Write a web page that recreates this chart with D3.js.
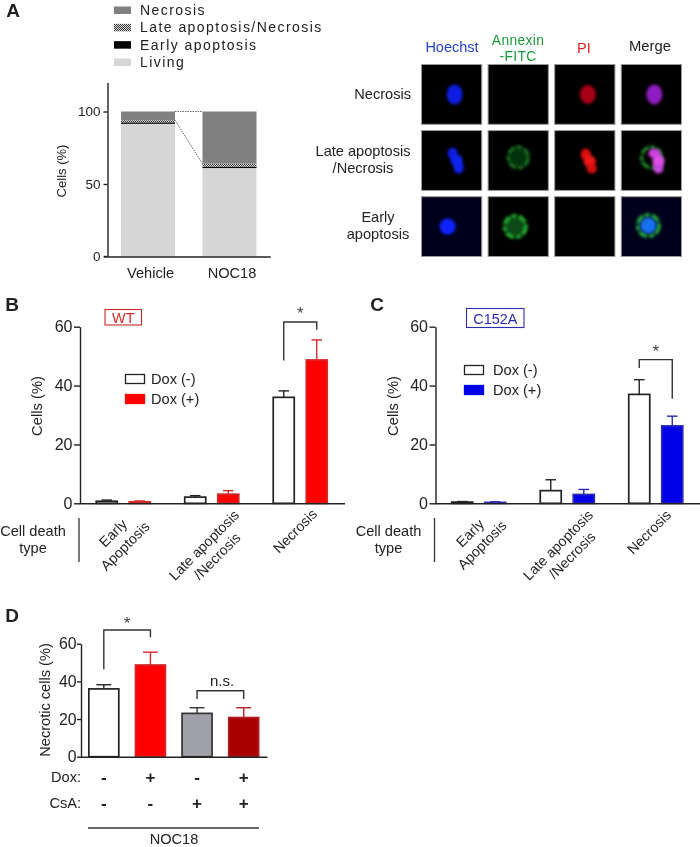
<!DOCTYPE html>
<html>
<head>
<meta charset="utf-8">
<script src="https://cdn.jsdelivr.net/npm/d3@7"></script>
<style>
  html, body { margin: 0; padding: 0; background: #fff; }
  svg { display: block; filter: blur(0.35px); }
  text { font-family: "Liberation Sans", Arial, sans-serif; fill: #222; }
</style>
</head>
<body>
<svg id="fig" width="700" height="847"></svg>
<script>
// panel A
const stackGroups = ["Vehicle", "NOC18"];
const stackKeys = ["Living", "Early apoptosis", "Late apoptosis/Necrosis", "Necrosis"];
const livingPct = [91.5, 61];
const earlyPct = [1, 1];
const latePct = [1.5, 2];
const necrosisPct = [6, 36];

// panels B and C
const deathTypes = ["Early", "Late", "Necrosis"];
const doxGroups = ["Dox (-)", "Dox (+)"];
const wtMinus = [0.7, 2.1, 36];
const wtMinusErr = [0.4, 0.5, 2.2];
const wtPlus = [0.5, 3.1, 48.7];
const wtPlusErr = [0.3, 1.2, 6.8];
const c152aMinus = [0.4, 4.3, 37];
const c152aMinusErr = [0.2, 3.7, 5];
const c152aPlus = [0.3, 3, 26.3];
const c152aPlusErr = [0.2, 1.7, 3.3];

// panel D
const noc18Groups = ["a", "b", "c", "d"];
const noc18Values = [36, 48.7, 23, 20.8];
const noc18Err = [2.2, 6.8, 3, 5.2];
const doxSigns = ["-", "+", "-", "+"];
const csaSigns = ["-", "-", "+", "+"];

// micrographs
const channels = ["Hoechst", "Annexin", "PI", "Merge"];
const stages = ["Necrosis", "Late", "Early"];

const ink = "#222";
const svg = d3.select("#fig");
const defs = svg.append("defs");

const hatch = defs.append("pattern")
    .attr("id", "hatch")
    .attr("width", 2)
    .attr("height", 2)
    .attr("patternUnits", "userSpaceOnUse");
hatch.append("rect").attr("width", 2).attr("height", 2).attr("fill", "#ddd");
hatch.append("rect").attr("width", 1).attr("height", 1).attr("fill", "#333");
hatch.append("rect").attr("x", 1).attr("y", 1).attr("width", 1).attr("height", 1).attr("fill", "#333");

defs.append("filter").attr("id", "soft")
    .attr("x", "-50%").attr("y", "-50%").attr("width", "200%").attr("height", "200%")
    .append("feGaussianBlur").attr("stdDeviation", 1.4);

function label(x, y, str, size, opts = {}) {
    const t = svg.append("text")
        .attr("x", x)
        .attr("y", y)
        .attr("dy", "0.35em")
        .attr("font-size", size)
        .attr("text-anchor", opts.anchor || "middle")
        .text(str);
    if (opts.fill) t.style("fill", opts.fill);
    if (opts.weight) t.attr("font-weight", opts.weight);
    if (opts.spacing) t.attr("letter-spacing", opts.spacing);
    if (opts.rotate) t.attr("transform", `rotate(${opts.rotate},${x},${y})`);
    return t;
}

function styleAxis(g, size) {
    g.selectAll("path, line").attr("stroke", ink).attr("stroke-width", 1.4);
    g.selectAll("text").attr("font-size", size).style("fill", ink);
}

function yAxis(y, x, ticks, size, tickLen = 5, pad = 3) {
    const g = svg.append("g")
        .attr("transform", `translate(${x},0)`)
        .call(d3.axisLeft(y).tickValues(ticks).tickSize(tickLen).tickSizeOuter(0).tickPadding(pad));
    styleAxis(g, size);
}

function xAxis(x, y0, size, showLabels) {
    const axis = d3.axisBottom(x).tickSize(0).tickPadding(11);
    if (!showLabels) axis.tickFormat("");
    const g = svg.append("g")
        .attr("transform", `translate(0,${y0})`)
        .call(axis);
    styleAxis(g, size);
    return g;
}

function bracket(x1, x2, yLeft, yTop, yRight) {
    svg.append("path")
        .attr("d", d3.line()([[x1, yLeft], [x1, yTop], [x2, yTop], [x2, yRight]]))
        .attr("fill", "none")
        .attr("stroke", "#333")
        .attr("stroke-width", 1.4);
}

function bar(x, w, y, value, err, fill, stroke) {
    // error bar first, only the upper half shows
    const cx = x + w / 2;
    svg.append("path")
        .attr("d", d3.line()([[cx, y(value)], [cx, y(value + err)]]))
        .attr("stroke", stroke)
        .attr("stroke-width", 1.4);
    svg.append("path")
        .attr("d", d3.line()([[cx - w * 0.24, y(value + err)], [cx + w * 0.24, y(value + err)]]))
        .attr("stroke", stroke)
        .attr("stroke-width", 1.4);
    svg.append("rect")
        .attr("x", x + 0.5)
        .attr("y", y(value))
        .attr("width", w - 1)
        .attr("height", y(0) - y(value))
        .attr("fill", fill)
        .attr("stroke", stroke)
        .attr("stroke-width", 1.7);
}

// ---- panel A ----
label(13, 10, "A", 19, { weight: "bold" });

const stackRows = stackGroups.map((g, i) => ({
    group: g,
    "Living": livingPct[i],
    "Early apoptosis": earlyPct[i],
    "Late apoptosis/Necrosis": latePct[i],
    "Necrosis": necrosisPct[i],
}));
const stackFill = d3.scaleOrdinal()
    .domain(stackKeys)
    .range(["#d6d6d6", "#000", "url(#hatch)", "#808080"]);

const xA = d3.scaleBand().domain(stackGroups).range([107.25, 270.25]).paddingInner(0.337).paddingOuter(0.169);
const yA = d3.scaleLinear().domain([0, 120]).range([256.5, 82.5]);
const series = d3.stack().keys(stackKeys)(stackRows);

svg.append("g")
    .selectAll("g")
    .data(series)
    .join("g")
    .attr("fill", (d) => stackFill(d.key))
    .selectAll("rect")
    .data((d) => d)
    .join("rect")
    .attr("x", (d) => xA(d.data.group))
    .attr("y", (d) => yA(d[1]))
    .attr("width", xA.bandwidth())
    .attr("height", (d) => yA(d[0]) - yA(d[1]));

// dotted connectors between the two stacks
const lateTop = series[2];
[[series[3][0][1], series[3][1][1]], [lateTop[0][1], lateTop[1][1]]].forEach((v) => {
    svg.append("path")
        .attr("d", d3.line()([
            [xA("Vehicle") + xA.bandwidth(), yA(v[0])],
            [xA("NOC18"), yA(v[1])],
        ]))
        .attr("stroke", "#666")
        .attr("stroke-width", 1)
        .attr("stroke-dasharray", "1.5,1");
});

yAxis(yA, 107.5, [0, 50, 100], 13.5, 4, 3);
xAxis(xA, 256.5, 14.6, true).selectAll("text").attr("dx", 2.5);
svg.append("path").attr("d", "M104,256.5H107.5").attr("stroke", ink).attr("stroke-width", 1.4);
label(61, 171, "Cells (%)", 13, { rotate: -90 });

// legend, top entry is the top of the stack
const legendKeys = stackKeys.slice().reverse();
const legendY = d3.scalePoint().domain(legendKeys).range([10, 62]);
legendKeys.forEach((k) => {
    svg.append("rect")
        .attr("x", 114)
        .attr("y", legendY(k) - 3.5)
        .attr("width", 17)
        .attr("height", 7.5)
        .attr("fill", stackFill(k));
    label(140, legendY(k), k, 14, { anchor: "start", spacing: 1.45 });
});

// ---- micrographs ----
const colX = d3.scaleBand().domain(channels).range([421, 682]).paddingInner(0.08).paddingOuter(0);
const rowY = d3.scaleBand().domain(stages).range([64, 257]).paddingInner(0.08).paddingOuter(0);

const spots = {
    "Necrosis|Hoechst": [["e", 3, 0, 8, 10, "#0a1ae0"]],
    "Necrosis|PI": [["e", 3, 0, 8, 9.5, "#a80012"]],
    "Necrosis|Merge": [["e", 3, 0, 8, 10, "#8f1fc0"]],
    "Late|Hoechst": [["e", 1, -7, 5, 6, "#0a1ae0"], ["e", 5, 0, 6, 6, "#1020f0"], ["e", 7, 7, 5, 6, "#1020f0"]],
    "Late|Annexin": [["e", 0, -3, 8, 9, "#06300a"], ["r", 0, -3, 11.5, 12, "#1a7a22", 3.5]],
    "Late|PI": [["e", 1, -6, 5, 6, "#e01010"], ["e", 5, 1, 6, 6, "#f01515"], ["e", 7, 8, 5, 5, "#d81010"]],
    "Late|Merge": [["r", 0, -3, 11.5, 12, "#1f8a28", 3.5], ["e", 3, -7, 6, 5, "#d040e0"], ["e", 7, 1, 6, 7, "#e050ea"], ["e", 7, 8, 5, 5, "#c848e0"]],
    "Early|Hoechst": [["e", -4, 0, 8, 8, "#0a20ff"]],
    "Early|Annexin": [["e", -3, 0, 9, 9, "#0a4a12"], ["r", -3, 0, 12.5, 12.5, "#22b030", 4]],
    "Early|Merge": [["r", -3, -1, 12.5, 12.5, "#22a838", 4], ["e", -3, -1, 8, 8, "#1570f0"]],
};

stages.forEach((s) => {
    channels.forEach((c) => {
        const early = s === "Early" && (c === "Hoechst" || c === "Merge");
        svg.append("rect")
            .attr("x", colX(c) + 0.5)
            .attr("y", rowY(s) + 0.5)
            .attr("width", colX.bandwidth() - 1)
            .attr("height", rowY.bandwidth() - 1)
            .attr("fill", early ? "#00001c" : "#000")
            .attr("stroke", "#999")
            .attr("stroke-width", 1);
        const cx = colX(c) + colX.bandwidth() / 2;
        const cy = rowY(s) + rowY.bandwidth() / 2;
        (spots[s + "|" + c] || []).forEach((b) => {
            if (b[0] === "e") {
                svg.append("ellipse")
                    .attr("cx", cx + b[1])
                    .attr("cy", cy + b[2])
                    .attr("rx", b[3])
                    .attr("ry", b[4])
                    .attr("fill", b[5])
                    .attr("filter", "url(#soft)");
            } else {
                // annexin stains the membrane, so it is a ring
                svg.append("ellipse")
                    .attr("cx", cx + b[1])
                    .attr("cy", cy + b[2])
                    .attr("rx", b[3] - b[6] / 2)
                    .attr("ry", b[4] - b[6] / 2)
                    .attr("fill", "none")
                    .attr("stroke", b[5])
                    .attr("stroke-width", b[6])
                    .attr("stroke-dasharray", "9,1.5,5,2")
                    .attr("filter", "url(#soft)");
            }
        });
    });
});

label(452, 47, "Hoechst", 14.5, { fill: "#2244cc" });
label(518, 40.5, "Annexin", 13.8, { fill: "#1a9a3a", spacing: 0.35 });
label(518, 56.5, "-FITC", 13.8, { fill: "#1a9a3a", spacing: 0.35 });
label(584, 48, "PI", 14.6, { fill: "#e02020" });
label(650, 46, "Merge", 14.8);
label(411, 94, "Necrosis", 14.6, { anchor: "end" });
label(363, 151, "Late apoptosis", 14.6);
label(363, 168, "/Necrosis", 14.6);
label(378, 217, "Early", 14.6);
label(378, 234, "apoptosis", 14.6);

// ---- panels B and C ----
function deathPanel(o) {
    const x = d3.scaleBand().domain(deathTypes).range(o.range);
    const inner = d3.scaleBand().domain(doxGroups).range([0, x.bandwidth()])
        .paddingInner(1 / 3).paddingOuter(0.507);
    const y = d3.scaleLinear().domain([0, 60]).range([503.3, 326.7]);

    deathTypes.forEach((t, i) => {
        bar(x(t) + inner(doxGroups[0]), inner.bandwidth(), y, o.minus[i], o.minusErr[i], "#fff", ink);
        bar(x(t) + inner(doxGroups[1]), inner.bandwidth(), y, o.plus[i], o.plusErr[i], o.color, o.errColor);
    });

    yAxis(y, o.range[0] + 1, [0, 20, 40, 60], 16, 6, 1.5);
    xAxis(x, 503.3, 14, false);
    label(o.range[0] - 42, 406, "Cells (%)", 14.8, { rotate: -90 });

    // tag
    svg.append("rect")
        .attr("x", o.tag[0])
        .attr("y", o.tag[1])
        .attr("width", o.tag[2])
        .attr("height", o.tag[3])
        .attr("fill", "none")
        .attr("stroke", o.errColor)
        .attr("stroke-width", 1.1);
    label(o.tag[0] + o.tag[2] / 2, o.tag[1] + o.tag[3] / 2 + 0.5, o.name, 14.4, { fill: o.errColor });

    // legend
    const ly = d3.scalePoint().domain(doxGroups).range(o.legendY);
    doxGroups.forEach((g, i) => {
        svg.append("rect")
            .attr("x", o.legendX + 0.5)
            .attr("y", ly(g) - 4.5)
            .attr("width", 19)
            .attr("height", 9)
            .attr("fill", i ? o.color : "#fff")
            .attr("stroke", i ? o.color : ink)
            .attr("stroke-width", 1.3);
        label(o.legendX + o.legendGap, ly(g), g, 14.6, { anchor: "start" });
    });

    // significance bracket
    const lx = x("Necrosis") + inner(doxGroups[0]) + inner.bandwidth() / 2;
    const rx = x("Necrosis") + inner(doxGroups[1]) + inner.bandwidth() / 2;
    bracket(lx, rx, y(o.sig[0]), y(o.sig[1]), y(o.sig[2]));
    label((lx + rx) / 2, y(o.sig[1]) - 8.5, "*", 17, { fill: "#444" });

    // row caption and rotated category names
    label(o.range[0] - 46, 531, "Cell death", 14.6);
    label(o.range[0] - 46, 548, "type", 14.6);
    svg.append("path")
        .attr("d", `M${o.range[0]},518V562`)
        .attr("stroke", "#333")
        .attr("stroke-width", 1.3);
    o.cats.forEach((c) => label(c[0], c[1], c[2], 14.2, { rotate: -45 }));
}

label(12, 304, "B", 19, { weight: "bold" });
deathPanel({
    name: "WT",
    range: [79, 344.5],
    minus: wtMinus,
    minusErr: wtMinusErr,
    plus: wtPlus,
    plusErr: wtPlusErr,
    color: "#ff0000",
    errColor: "#d02a2a",
    tag: [105, 309.5, 36.5, 15.5],
    legendX: 125,
    legendGap: 26,
    legendY: [379, 399],
    sig: [48.5, 61.6, 59],
    cats: [
        [113, 533, "Early"], [125, 546, "Apoptosis"],
        [204, 545, "Late apoptosis"], [217, 556, "/Necrosis"],
        [295, 531, "Necrosis"],
    ],
});

label(377, 304, "C", 19, { weight: "bold" });
deathPanel({
    name: "C152A",
    range: [434.5, 700],
    minus: c152aMinus,
    minusErr: c152aMinusErr,
    plus: c152aPlus,
    plusErr: c152aPlusErr,
    color: "#0000e6",
    errColor: "#2a2ab4",
    tag: [466.5, 308.5, 57.5, 19],
    legendX: 464,
    legendGap: 29,
    legendY: [370, 390],
    sig: [46, 48.8, 35.5],
    cats: [
        [470, 533, "Early"], [482, 545, "Apoptosis"],
        [558, 545, "Late apoptosis"], [572, 555, "/Necrosis"],
        [649, 532, "Necrosis"],
    ],
});

// ---- panel D ----
label(12, 615, "D", 19, { weight: "bold" });

const xD = d3.scaleBand().domain(noc18Groups).range([80.5, 267]).paddingInner(0.336).paddingOuter(0.168);
const yD = d3.scaleLinear().domain([0, 60]).range([756.7, 643.7]);
const fillD = ["#fff", "#ff0000", "#a0a0a8", "#a80000"];
const strokeD = [ink, "#d02a2a", "#333", "#b02020"];

noc18Groups.forEach((g, i) => {
    bar(xD(g), xD.bandwidth(), yD, noc18Values[i], noc18Err[i], fillD[i], strokeD[i]);
});
yAxis(yD, 81, [0, 20, 40, 60], 15.8, 4, 0.5);
xAxis(xD, 756.7, 14, false);
label(45, 700, "Necrotic cells (%)", 14.6, { rotate: -90 });

const centerD = (g) => xD(g) + xD.bandwidth() / 2;
bracket(centerD("a"), centerD("b"), yD(46.5), yD(67.3), yD(63.4));
label(127, 623, "*", 17, { fill: "#444" });
bracket(centerD("c"), centerD("d"), yD(30.6), yD(35), yD(30.6));
label(222, 681, "n.s.", 15);

label(81, 777, "Dox:", 14.6, { anchor: "end" });
label(81, 803, "CsA:", 14.6, { anchor: "end" });
noc18Groups.forEach((g, i) => {
    label(centerD(g), 777, doxSigns[i], 17, { weight: "bold" });
    label(centerD(g), 803, csaSigns[i], 17, { weight: "bold" });
});
svg.append("path").attr("d", "M88,828H259").attr("stroke", "#333").attr("stroke-width", 1.4);
label(174, 838.5, "NOC18", 14.6);
</script>
</body>
</html>
